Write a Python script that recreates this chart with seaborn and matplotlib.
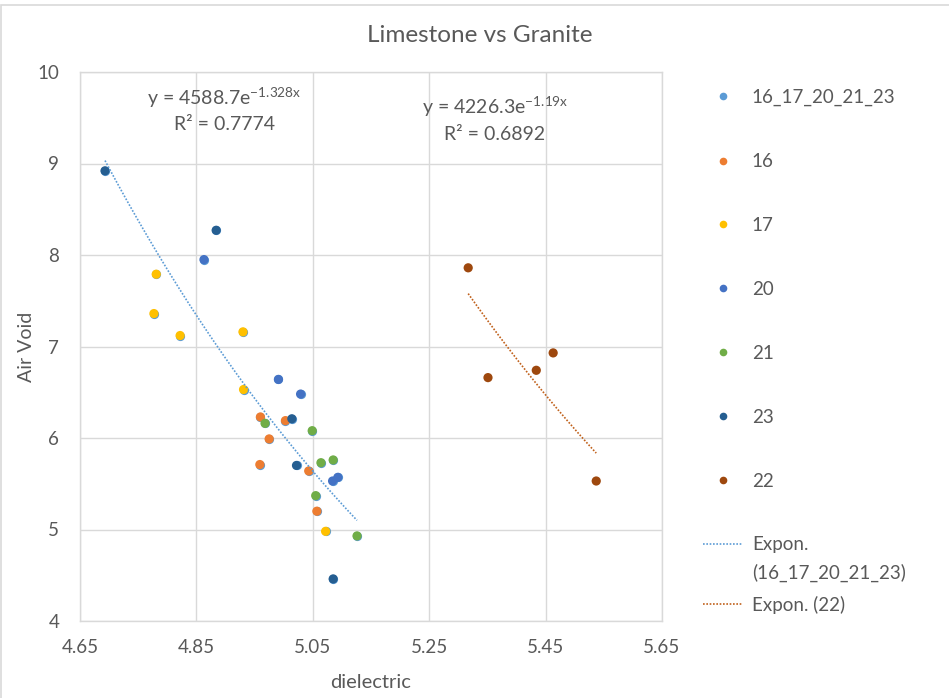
import numpy as np
import pandas as pd
import matplotlib
matplotlib.use("Agg")
import matplotlib.pyplot as plt
from matplotlib.lines import Line2D
from matplotlib.patches import Rectangle
import seaborn as sns

# ---------------- data ----------------
s16_x = [4.960, 5.003, 4.975, 4.959, 5.043, 5.057]
s16_y = [6.23, 6.19, 5.99, 5.71, 5.64, 5.20]
s17_x = [4.781, 4.777, 4.822, 4.930, 4.931, 5.072]
s17_y = [7.79, 7.36, 7.12, 7.16, 6.53, 4.98]
s20_x = [4.863, 4.991, 5.029, 5.084, 5.093]
s20_y = [7.95, 6.64, 6.48, 5.53, 5.57]
s21_x = [4.968, 5.049, 5.064, 5.085, 5.055, 5.126]
s21_y = [6.16, 6.08, 5.73, 5.76, 5.37, 4.93]
s23_x = [4.693, 4.884, 5.014, 5.022, 5.085]
s23_y = [8.92, 8.27, 6.21, 5.70, 4.46]
s22_x = [5.317, 5.351, 5.434, 5.463, 5.537]
s22_y = [7.86, 6.66, 6.74, 6.93, 5.53]

series_names = ["16", "17", "20", "21", "23", "22"]
combined_name = "16_17_20_21_23"
eq1_text = ["y = 4588.7e$^{\\mathrm{-1.328x}}$", "R² = 0.7774"]
eq2_text = ["y = 4226.3e$^{\\mathrm{-1.19x}}$", "R² = 0.6892"]
x_ticks = [4.65, 4.85, 5.05, 5.25, 5.45, 5.65]
y_ticks = [4, 5, 6, 7, 8, 9, 10]

colors = {combined_name: "#5B9BD5", "16": "#ED7D31", "17": "#FFC000",
          "20": "#4472C4", "21": "#70AD47", "23": "#255E91", "22": "#9E480E"}
trend1_color = "#5B9BD5"
trend2_color = "#C0601A"
txt = "#595959"

# ---------------- frames ----------------
rows = []
for name, xs, ys in [("16", s16_x, s16_y), ("17", s17_x, s17_y), ("20", s20_x, s20_y),
                     ("21", s21_x, s21_y), ("23", s23_x, s23_y), ("22", s22_x, s22_y)]:
    for x, y in zip(xs, ys):
        rows.append({"series": name, "dielectric": x, "Air Void": y})
df = pd.DataFrame(rows)
comb = df[df.series != "22"].copy()
comb["series"] = combined_name
g22 = df[df.series == "22"]

def expfit(d):
    b, a = np.polyfit(d["dielectric"], np.log(d["Air Void"]), 1)
    xs = np.linspace(d["dielectric"].min(), d["dielectric"].max(), 100)
    return pd.DataFrame({"dielectric": xs, "Air Void": np.exp(a) * np.exp(b * xs)})

t1 = expfit(comb)
t2 = expfit(g22)

# ---------------- plot ----------------
sns.set_theme(style="white")
plt.rcParams["font.family"] = ["Lato", "DejaVu Sans"]
plt.rcParams["mathtext.fontset"] = "custom"
plt.rcParams["mathtext.rm"] = "Lato"
plt.rcParams["mathtext.it"] = "Lato"

W, H = 949, 698
fig = plt.figure(figsize=(W / 100, H / 100), dpi=100)
ax = fig.add_axes([80 / W, 1 - 621 / H, (662 - 80) / W, (621 - 72) / H])

# chart border
fig.add_artist(Rectangle((1 / W, -0.1), 1.2, 1.1 - 5 / H, transform=fig.transFigure,
                         fill=False, edgecolor="#D9D9D9", linewidth=1.2))

sns.scatterplot(data=comb, x="dielectric", y="Air Void", color=colors[combined_name],
                s=44, linewidth=0, ax=ax, legend=False, zorder=2)
sns.scatterplot(data=df, x="dielectric", y="Air Void", hue="series", palette=colors,
                hue_order=series_names, s=44, linewidth=0, ax=ax, legend=False, zorder=3)
sns.lineplot(data=t1, x="dielectric", y="Air Void", color=trend1_color, linestyle=(0, (1, 1)),
             linewidth=1.2, ax=ax, zorder=4)
sns.lineplot(data=t2, x="dielectric", y="Air Void", color=trend2_color, linestyle=(0, (1, 1)),
             linewidth=1.2, ax=ax, zorder=4)

ax.set_xlim(x_ticks[0], x_ticks[-1])
ax.set_ylim(y_ticks[0], y_ticks[-1])
ax.set_xticks(x_ticks)
ax.set_xticklabels([f"{v:.2f}" for v in x_ticks])
ax.set_yticks(y_ticks)
ax.set_yticklabels([str(v) for v in y_ticks])
ax.grid(True, color="#D9D9D9", linewidth=1)
ax.set_axisbelow(True)
for sp in ax.spines.values():
    sp.set_color("#D9D9D9")
    sp.set_linewidth(1)
ax.tick_params(axis="both", length=0, labelsize=13.5, colors=txt)
ax.tick_params(axis="x", pad=13)
ax.tick_params(axis="y", pad=15)
ax.set_xlabel("dielectric", fontsize=14.5, color=txt, labelpad=13)
ax.set_ylabel("Air Void", fontsize=14, color=txt, labelpad=2)

fig.text(480 / W, 1 - 35 / H, "Limestone vs Granite", ha="center", va="center",
         fontsize=17.5, color=txt)

# trendline equations
def place(lines, cx, cy):
    fig.text(cx / W, 1 - cy / H, lines[0], ha="center", va="center", fontsize=14, color=txt)
    fig.text(cx / W, 1 - (cy + 27) / H, lines[1], ha="center", va="center", fontsize=14, color=txt)
place(eq1_text, 224, 98)
place(eq2_text, 495, 107)

# legend
handles = [Line2D([], [], marker="o", linestyle="none", markersize=5.5,
                  markerfacecolor=colors[n], markeredgewidth=0)
           for n in [combined_name] + series_names]
labels = [combined_name] + series_names
handles += [Line2D([], [], color=trend1_color, linestyle=(0, (1, 1)), linewidth=1.2)]
labels += ["Expon.\n(16_17_20_21_23)"]
leg = fig.legend(handles, labels, loc="upper left", bbox_to_anchor=(703 / W, 1 - 89 / H),
                 frameon=False, fontsize=13.5, labelspacing=2.5, handlelength=2.1,
                 handletextpad=0.5, borderaxespad=0, borderpad=0)
for t in leg.get_texts():
    t.set_color(txt)
leg.get_texts()[7].set_linespacing(1.7)
# lift the dotted handle of the two-line entry to its first line
hl = leg.legend_handles[7]
hl.set_ydata(np.asarray(hl.get_ydata(), dtype=float) + 11.5)

leg2 = fig.legend([Line2D([], [], color=trend2_color, linestyle=(0, (1, 1)), linewidth=1.2)],
                  ["Expon. (22)"], loc="center left", bbox_to_anchor=(703 / W, 1 - 605 / H),
                  frameon=False, fontsize=13.5, handlelength=2.1, handletextpad=0.5,
                  borderaxespad=0, borderpad=0)
for t in leg2.get_texts():
    t.set_color(txt)

fig.savefig("out.png", dpi=100)
